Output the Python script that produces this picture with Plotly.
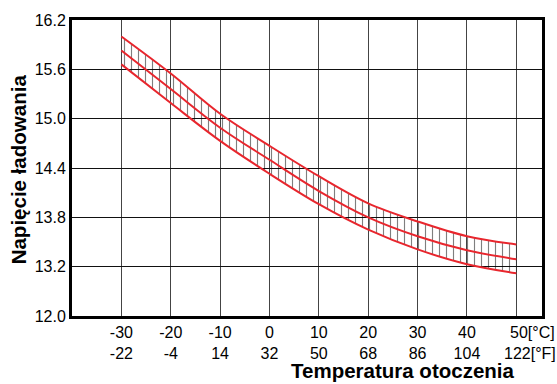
import plotly.graph_objects as go

# Data
temps_c = [-30, -20, -10, 0, 10, 20, 30, 40, 50]
temps_f = [-22, -4, 14, 32, 50, 68, 86, 104, 122]
upper = [16.00, 15.55, 15.06, 14.67, 14.30, 13.97, 13.75, 13.57, 13.47]
middle = [15.83, 15.36, 14.89, 14.50, 14.12, 13.80, 13.57, 13.40, 13.29]
lower = [15.66, 15.19, 14.73, 14.33, 13.96, 13.65, 13.41, 13.23, 13.12]

y_tick_vals = [12.6, 13.2, 13.8, 14.4, 15.0, 15.6, 16.2]
y_tick_text = ["12.0", "13.2", "13.8", "14.4", "15.0", "15.6", "16.2"]

RED = "#e8262d"
FONT = "Liberation Sans, Arial, sans-serif"

fig = go.Figure()
fig.add_trace(go.Scatter(x=temps_c, y=lower, mode="lines",
                         line=dict(color=RED, width=2, shape="spline"),
                         showlegend=False, hoverinfo="skip"))
fig.add_trace(go.Scatter(x=temps_c, y=upper, mode="lines", fill="tonexty",
                         fillcolor="rgba(0,0,0,0)",
                         fillpattern=dict(shape="|", size=7, solidity=0.16,
                                          fgcolor="black", bgcolor="rgba(0,0,0,0)"),
                         line=dict(color=RED, width=2, shape="spline"),
                         showlegend=False, hoverinfo="skip"))
fig.add_trace(go.Scatter(x=temps_c, y=middle, mode="lines",
                         line=dict(color=RED, width=2, shape="spline"),
                         showlegend=False, hoverinfo="skip"))

ticktext = [f"{c}<br>{f}" for c, f in zip(temps_c[:-1], temps_f[:-1])] + [""]

fig.update_xaxes(range=[-40, 55.2], tickvals=temps_c, ticktext=ticktext,
                 showgrid=True, gridcolor="#444", gridwidth=1,
                 showline=True, linecolor="black", linewidth=3, mirror=True,
                 ticks="", zeroline=False,
                 tickfont=dict(family=FONT, size=16, color="black"))
fig.update_yaxes(range=[12.6, 16.2], tickvals=y_tick_vals, ticktext=y_tick_text,
                 showgrid=True, gridcolor="#111", gridwidth=1,
                 showline=True, linecolor="black", linewidth=3, mirror=True,
                 ticks="", zeroline=False,
                 tickfont=dict(family=FONT, size=16, color="black"))

W, H = 557, 384
L, R, T, B = 72, 12, 16, 68
pw = W - L - R

annotations = [
    dict(text="50[°C]", x=50, xref="x", y=0, yref="paper", xanchor="left",
         yanchor="top", xshift=-8, yshift=-6, showarrow=False,
         font=dict(family=FONT, size=16, color="black")),
    dict(text="122[°F]", x=50, xref="x", y=0, yref="paper", xanchor="left",
         yanchor="top", xshift=-14, yshift=-27, showarrow=False,
         font=dict(family=FONT, size=16, color="black")),
    dict(text="<b>Temperatura otoczenia</b>", x=(405 - L) / pw, xref="paper",
         y=0, yref="paper", xanchor="center", yanchor="middle", yshift=-54,
         showarrow=False, font=dict(family=FONT, size=20.5, color="black")),
    dict(text="<b>Napięcie ładowania</b>", x=(18 - L) / pw, xref="paper",
         y=0.5, yref="paper", xanchor="center", yanchor="middle", textangle=-90,
         yshift=-1, showarrow=False, font=dict(family=FONT, size=20.5, color="black")),
]

fig.update_layout(width=W, height=H, margin=dict(l=L, r=R, t=T, b=B),
                  plot_bgcolor="white", paper_bgcolor="white",
                  annotations=annotations, showlegend=False)

fig.write_html("out.html", config={"displayModeBar": False},
               post_script="document.body.style.margin='0';document.body.style.padding='0';")
